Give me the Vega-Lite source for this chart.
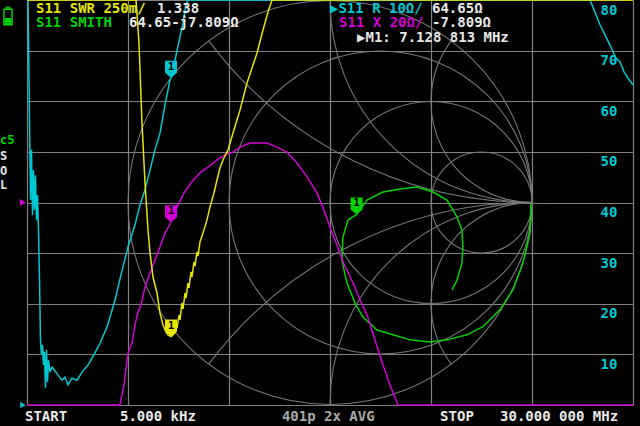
{
  "$schema": "https://vega.github.io/schema/vega-lite/v6.json",
  "width": 606,
  "height": 405,
  "autosize": {"type": "none"},
  "padding": {"left": 27, "top": 0, "right": 7, "bottom": 21},
  "background": "#000000",
  "config": {
    "view": {"stroke": null},
    "text": {"font": "DejaVu Sans Mono", "fontSize": 14, "fontWeight": "bold"}
  },
  "data": {"values": [{}]},
  "datasets": {
    "smithgrid": [
      {"name": "outer", "cx": 0, "cy": 0, "r": 1, "t1": 0, "t2": 360},
      {"name": "r=1/3", "cx": 0.25, "cy": 0, "r": 0.75, "t1": 0, "t2": 360},
      {"name": "r=1", "cx": 0.5, "cy": 0, "r": 0.5, "t1": 0, "t2": 360},
      {"name": "r=3", "cx": 0.75, "cy": 0, "r": 0.25, "t1": 0, "t2": 360},
      {"name": "x=1", "cx": 1, "cy": 1, "r": 1, "t1": 180, "t2": 270},
      {"name": "x=-1", "cx": 1, "cy": -1, "r": 1, "t1": 270, "t2": 360},
      {"name": "x=2", "cx": 1, "cy": 0.5, "r": 0.5, "t1": 180, "t2": 306.87},
      {"name": "x=-2", "cx": 1, "cy": -0.5, "r": 0.5, "t1": 233.13, "t2": 360},
      {"name": "x=0.5", "cx": 1, "cy": 2, "r": 2, "t1": 180, "t2": 233.13},
      {"name": "x=-0.5", "cx": 1, "cy": -2, "r": 2, "t1": 306.87, "t2": 360}
    ],
    "cyan": [
      {"f": 0.005, "R": 120}, {"f": 0.05, "R": 90}, {"f": 0.089, "R": 68.1}, {"f": 0.124, "R": 56.3},
      {"f": 0.173, "R": 40.5}, {"f": 0.223, "R": 50.4}, {"f": 0.272, "R": 37.5}, {"f": 0.322, "R": 46.4},
      {"f": 0.371, "R": 38.5}, {"f": 0.421, "R": 45.4}, {"f": 0.47, "R": 36.5}, {"f": 0.52, "R": 41.5},
      {"f": 0.569, "R": 34.6}, {"f": 0.619, "R": 24.7}, {"f": 0.668, "R": 12.8}, {"f": 0.718, "R": 9.9},
      {"f": 0.767, "R": 11.9}, {"f": 0.817, "R": 7.9}, {"f": 0.866, "R": 10.5}, {"f": 0.916, "R": 3.4},
      {"f": 0.965, "R": 10.9}, {"f": 1.015, "R": 4.5}, {"f": 1.064, "R": 8.9}, {"f": 1.139, "R": 6.5},
      {"f": 1.238, "R": 7.5}, {"f": 1.287, "R": 7.3}, {"f": 1.535, "R": 5.9}, {"f": 1.733, "R": 4.9},
      {"f": 1.881, "R": 5.5}, {"f": 2.03, "R": 4.0}, {"f": 2.228, "R": 5.3}, {"f": 2.475, "R": 4.9},
      {"f": 2.723, "R": 6.5}, {"f": 3.02, "R": 7.9}, {"f": 3.366, "R": 10.3}, {"f": 3.614, "R": 12.2},
      {"f": 3.96, "R": 15.4}, {"f": 4.356, "R": 20.7}, {"f": 4.653, "R": 25.7}, {"f": 5.0, "R": 31.2},
      {"f": 5.347, "R": 35.6}, {"f": 5.594, "R": 39.5}, {"f": 5.842, "R": 42.5}, {"f": 6.089, "R": 46.4},
      {"f": 6.337, "R": 50.4}, {"f": 6.584, "R": 53.7}, {"f": 6.832, "R": 59.3}, {"f": 7.079, "R": 64.2},
      {"f": 7.128813, "R": 64.65}, {"f": 7.327, "R": 68.1}, {"f": 7.574, "R": 72.7}, {"f": 7.723, "R": 75.5},
      {"f": 7.871, "R": 79.0}, {"f": 7.97, "R": 84}, {"f": 8.5, "R": 110}, {"f": 15, "R": 180},
      {"f": 25, "R": 110}, {"f": 27.6, "R": 85}, {"f": 27.871, "R": 80.0}, {"f": 28.119, "R": 77.6},
      {"f": 28.366, "R": 75.1}, {"f": 28.614, "R": 73.1}, {"f": 28.861, "R": 71.1}, {"f": 29.158, "R": 68.5},
      {"f": 29.356, "R": 67.8}, {"f": 29.554, "R": 65.8}, {"f": 29.752, "R": 64.6}, {"f": 30.0, "R": 63.2}
    ],
    "yellow": [
      {"f": 0.005, "swr": 10}, {"f": 5.3, "swr": 3.2}, {"f": 5.396, "swr": 3.0}, {"f": 5.544, "swr": 2.788},
      {"f": 5.693, "swr": 2.393}, {"f": 5.842, "swr": 2.096}, {"f": 5.99, "swr": 1.864}, {"f": 6.089, "swr": 1.751},
      {"f": 6.238, "swr": 1.632}, {"f": 6.436, "swr": 1.553}, {"f": 6.584, "swr": 1.454}, {"f": 6.733, "swr": 1.395},
      {"f": 6.881, "swr": 1.36}, {"f": 6.98, "swr": 1.346}, {"f": 7.128813, "swr": 1.338}, {"f": 7.327, "swr": 1.356},
      {"f": 7.376, "swr": 1.41}, {"f": 7.426, "swr": 1.38}, {"f": 7.525, "swr": 1.444}, {"f": 7.574, "swr": 1.42},
      {"f": 7.673, "swr": 1.504}, {"f": 7.723, "swr": 1.474}, {"f": 7.822, "swr": 1.553}, {"f": 7.871, "swr": 1.528},
      {"f": 7.97, "swr": 1.602}, {"f": 8.02, "swr": 1.578}, {"f": 8.119, "swr": 1.657}, {"f": 8.168, "swr": 1.632},
      {"f": 8.267, "swr": 1.706}, {"f": 8.317, "swr": 1.686}, {"f": 8.416, "swr": 1.756}, {"f": 8.465, "swr": 1.736},
      {"f": 8.564, "swr": 1.805}, {"f": 8.713, "swr": 1.849}, {"f": 8.911, "swr": 1.914}, {"f": 9.059, "swr": 1.978},
      {"f": 9.257, "swr": 2.047}, {"f": 9.406, "swr": 2.111}, {"f": 9.554, "swr": 2.17}, {"f": 9.703, "swr": 2.21},
      {"f": 9.95, "swr": 2.259}, {"f": 10.198, "swr": 2.343}, {"f": 10.545, "swr": 2.457}, {"f": 10.891, "swr": 2.59},
      {"f": 11.139, "swr": 2.664}, {"f": 11.386, "swr": 2.738}, {"f": 11.683, "swr": 2.852}, {"f": 11.931, "swr": 2.941},
      {"f": 12.129, "swr": 3.0}, {"f": 12.3, "swr": 3.5}, {"f": 30.0, "swr": 10}
    ],
    "magenta": [
      {"f": 0.005, "x": -100}, {"f": 4.55, "x": -100}, {"f": 4.604, "x": -80}, {"f": 4.802, "x": -72.1},
      {"f": 5.0, "x": -59.4}, {"f": 5.198, "x": -55.5}, {"f": 5.347, "x": -48.4}, {"f": 5.495, "x": -43.3},
      {"f": 5.644, "x": -40.5}, {"f": 5.842, "x": -33.4}, {"f": 6.089, "x": -27.8}, {"f": 6.337, "x": -22.7},
      {"f": 6.584, "x": -17.6}, {"f": 6.832, "x": -12.0}, {"f": 7.128813, "x": -7.809}, {"f": 7.426, "x": -1.8},
      {"f": 7.772, "x": 3.8}, {"f": 8.119, "x": 7.7}, {"f": 8.564, "x": 11.7}, {"f": 8.96, "x": 14.0},
      {"f": 9.406, "x": 16.8}, {"f": 9.802, "x": 18.8}, {"f": 10.198, "x": 19.9}, {"f": 10.545, "x": 21.9},
      {"f": 11.04, "x": 23.5}, {"f": 11.436, "x": 23.5}, {"f": 11.881, "x": 23.5}, {"f": 12.376, "x": 21.9},
      {"f": 12.871, "x": 19.9}, {"f": 13.366, "x": 15.6}, {"f": 13.861, "x": 10.1}, {"f": 14.356, "x": 3.8},
      {"f": 14.752, "x": -4.1}, {"f": 15.05, "x": -10.9}, {"f": 15.347, "x": -16.8}, {"f": 15.644, "x": -23.5},
      {"f": 16.139, "x": -31.8}, {"f": 16.485, "x": -38.5}, {"f": 16.832, "x": -44.4}, {"f": 17.228, "x": -54.3},
      {"f": 17.624, "x": -64.2}, {"f": 17.97, "x": -72.1}, {"f": 18.366, "x": -80}, {"f": 18.45, "x": -100},
      {"f": 30.0, "x": -100}
    ],
    "green": [
      {"f": 0.005, "re": 0.995, "im": -0.005}, {"f": 0.3, "re": 0.993, "im": -0.062}, {"f": 0.6, "re": 0.99, "im": -0.151},
      {"f": 1.0, "re": 0.955, "im": -0.3}, {"f": 1.5, "re": 0.906, "im": -0.431}, {"f": 2.0, "re": 0.842, "im": -0.53},
      {"f": 2.5, "re": 0.757, "im": -0.615}, {"f": 3.0, "re": 0.678, "im": -0.655}, {"f": 3.5, "re": 0.579, "im": -0.68},
      {"f": 4.0, "re": 0.495, "im": -0.69}, {"f": 4.4, "re": 0.396, "im": -0.68}, {"f": 4.8, "re": 0.312, "im": -0.655},
      {"f": 5.1, "re": 0.233, "im": -0.631}, {"f": 5.4, "re": 0.163, "im": -0.567}, {"f": 5.7, "re": 0.124, "im": -0.498},
      {"f": 6.0, "re": 0.084, "im": -0.399}, {"f": 6.4, "re": 0.059, "im": -0.285}, {"f": 6.7, "re": 0.064, "im": -0.171},
      {"f": 6.95, "re": 0.089, "im": -0.087}, {"f": 7.128813, "re": 0.1318, "im": -0.0591}, {"f": 7.4, "re": 0.183, "im": 0.012},
      {"f": 8.0, "re": 0.262, "im": 0.052}, {"f": 9.0, "re": 0.347, "im": 0.067}, {"f": 10.5, "re": 0.431, "im": 0.077},
      {"f": 12.0, "re": 0.510, "im": 0.052}, {"f": 14.0, "re": 0.579, "im": 0.012}, {"f": 16.0, "re": 0.629, "im": -0.072},
      {"f": 18.0, "re": 0.653, "im": -0.136}, {"f": 21.0, "re": 0.658, "im": -0.220}, {"f": 24.0, "re": 0.653, "im": -0.300},
      {"f": 27.0, "re": 0.629, "im": -0.384}, {"f": 30.0, "re": 0.604, "im": -0.433}
    ],
    "rlabels": [
      {"v": 10}, {"v": 20}, {"v": 30}, {"v": 40}, {"v": 50}, {"v": 60}, {"v": 70}, {"v": 80}
    ]
  },
  "resolve": {"scale": {"x": "independent", "y": "independent", "theta": "independent", "radius": "independent"}},
  "layer": [
    {
      "data": {"name": "smithgrid"},
      "mark": {"type": "arc", "filled": false, "color": "#767676", "strokeWidth": 1.1},
      "encoding": {
        "x": {"field": "cx", "type": "quantitative", "scale": {"domain": [-1.5, 1.5], "nice": false, "zero": false}, "axis": null},
        "y": {"field": "cy", "type": "quantitative", "scale": {"domain": [-1.0025, 1.0025], "nice": false, "zero": false}, "axis": null},
        "radius": {"field": "r", "type": "quantitative", "scale": {"type": "linear", "domain": [0, 1], "range": [0, 202], "zero": true}},
        "radius2": {"field": "r"},
        "theta": {"field": "t1", "type": "quantitative", "stack": null, "scale": {"type": "linear", "domain": [0, 360], "range": [0, 6.283185307179586]}},
        "theta2": {"field": "t2"}
      }
    },
    {
      "data": {"name": "cyan"},
      "mark": {"type": "line", "color": "#00c8d2", "strokeWidth": 1.5},
      "encoding": {
        "x": {"field": "f", "type": "quantitative", "scale": {"domain": [0, 30], "nice": false, "zero": false},
          "axis": {"values": [0, 5, 10, 15, 20, 25, 30], "grid": true, "gridColor": "#808080", "gridWidth": 1.2, "labels": false, "ticks": false, "domain": false, "title": null}},
        "y": {"field": "R", "type": "quantitative", "scale": {"domain": [0, 80], "nice": false, "zero": false, "clamp": true},
          "axis": {"values": [0, 10, 20, 30, 40, 50, 60, 70, 80], "grid": true, "gridColor": "#808080", "gridWidth": 1.2, "labels": false, "ticks": false, "domain": false, "title": null}}
      }
    },
    {
      "data": {"name": "green"},
      "mark": {"type": "line", "color": "#00d200", "strokeWidth": 1.5},
      "encoding": {
        "x": {"field": "re", "type": "quantitative", "scale": {"domain": [-1.5, 1.5], "nice": false, "zero": false}, "axis": null},
        "y": {"field": "im", "type": "quantitative", "scale": {"domain": [-1.0025, 1.0025], "nice": false, "zero": false}, "axis": null},
        "order": {"field": "f", "type": "quantitative"}
      }
    },
    {
      "data": {"name": "magenta"},
      "mark": {"type": "line", "color": "#d200d2", "strokeWidth": 1.5},
      "encoding": {
        "x": {"field": "f", "type": "quantitative", "scale": {"domain": [0, 30], "nice": false, "zero": false}, "axis": null},
        "y": {"field": "x", "type": "quantitative", "scale": {"domain": [-80, 80], "nice": false, "zero": false, "clamp": true}, "axis": null}
      }
    },
    {
      "data": {"name": "yellow"},
      "mark": {"type": "line", "color": "#e6e600", "strokeWidth": 1.5},
      "encoding": {
        "x": {"field": "f", "type": "quantitative", "scale": {"domain": [0, 30], "nice": false, "zero": false}, "axis": null},
        "y": {"field": "swr", "type": "quantitative", "scale": {"domain": [1, 3], "nice": false, "zero": false, "clamp": true}, "axis": null}
      }
    },
    {
      "mark": {"type": "point", "shape": "M-1.2,-3.4H1.2V-1L0,0L-1.2,-1Z", "size": 100, "filled": true, "color": "#e6e600", "opacity": 1},
      "encoding": {
        "x": {"datum": 7.128813, "type": "quantitative", "scale": {"domain": [0, 30], "nice": false, "zero": false}, "axis": null},
        "y": {"datum": 1.338, "type": "quantitative", "scale": {"domain": [1, 3], "nice": false, "zero": false}, "axis": null}
      }
    },
    {
      "mark": {"type": "text", "text": "1", "color": "#000000", "fontSize": 11, "dy": -11, "align": "center", "baseline": "middle"},
      "encoding": {
        "x": {"datum": 7.128813, "type": "quantitative", "scale": {"domain": [0, 30], "nice": false, "zero": false}, "axis": null},
        "y": {"datum": 1.338, "type": "quantitative", "scale": {"domain": [1, 3], "nice": false, "zero": false}, "axis": null}
      }
    },
    {
      "mark": {"type": "point", "shape": "M-1.2,-3.4H1.2V-1L0,0L-1.2,-1Z", "size": 100, "filled": true, "color": "#00c8d2", "opacity": 1},
      "encoding": {
        "x": {"datum": 7.128813, "type": "quantitative", "scale": {"domain": [0, 30], "nice": false, "zero": false}, "axis": null},
        "y": {"datum": 64.65, "type": "quantitative", "scale": {"domain": [0, 80], "nice": false, "zero": false}, "axis": null}
      }
    },
    {
      "mark": {"type": "text", "text": "1", "color": "#000000", "fontSize": 11, "dy": -11, "align": "center", "baseline": "middle"},
      "encoding": {
        "x": {"datum": 7.128813, "type": "quantitative", "scale": {"domain": [0, 30], "nice": false, "zero": false}, "axis": null},
        "y": {"datum": 64.65, "type": "quantitative", "scale": {"domain": [0, 80], "nice": false, "zero": false}, "axis": null}
      }
    },
    {
      "mark": {"type": "point", "shape": "M-1.2,-3.4H1.2V-1L0,0L-1.2,-1Z", "size": 100, "filled": true, "color": "#d200d2", "opacity": 1},
      "encoding": {
        "x": {"datum": 7.128813, "type": "quantitative", "scale": {"domain": [0, 30], "nice": false, "zero": false}, "axis": null},
        "y": {"datum": -7.809, "type": "quantitative", "scale": {"domain": [-80, 80], "nice": false, "zero": false}, "axis": null}
      }
    },
    {
      "mark": {"type": "text", "text": "1", "color": "#000000", "fontSize": 11, "dy": -11, "align": "center", "baseline": "middle"},
      "encoding": {
        "x": {"datum": 7.128813, "type": "quantitative", "scale": {"domain": [0, 30], "nice": false, "zero": false}, "axis": null},
        "y": {"datum": -7.809, "type": "quantitative", "scale": {"domain": [-80, 80], "nice": false, "zero": false}, "axis": null}
      }
    },
    {
      "mark": {"type": "point", "shape": "M-1.2,-3.4H1.2V-1L0,0L-1.2,-1Z", "size": 100, "filled": true, "color": "#00d200", "opacity": 1},
      "encoding": {
        "x": {"datum": 0.1318, "type": "quantitative", "scale": {"domain": [-1.5, 1.5], "nice": false, "zero": false}, "axis": null},
        "y": {"datum": -0.0591, "type": "quantitative", "scale": {"domain": [-1.0025, 1.0025], "nice": false, "zero": false}, "axis": null}
      }
    },
    {
      "mark": {"type": "text", "text": "1", "color": "#000000", "fontSize": 11, "dy": -11, "align": "center", "baseline": "middle"},
      "encoding": {
        "x": {"datum": 0.1318, "type": "quantitative", "scale": {"domain": [-1.5, 1.5], "nice": false, "zero": false}, "axis": null},
        "y": {"datum": -0.0591, "type": "quantitative", "scale": {"domain": [-1.0025, 1.0025], "nice": false, "zero": false}, "axis": null}
      }
    },
    {
      "mark": {"type": "point", "shape": "triangle-right", "size": 50, "filled": true, "color": "#d200d2", "opacity": 1},
      "encoding": {
        "x": {"datum": -0.2, "type": "quantitative", "scale": {"domain": [0, 30], "nice": false, "zero": false}, "axis": null},
        "y": {"datum": 0, "type": "quantitative", "scale": {"domain": [-80, 80], "nice": false, "zero": false}, "axis": null}
      }
    },
    {
      "mark": {"type": "point", "shape": "triangle-right", "size": 40, "filled": true, "color": "#00c8d2", "opacity": 1},
      "encoding": {
        "x": {"datum": -0.2, "type": "quantitative", "scale": {"domain": [0, 30], "nice": false, "zero": false}, "axis": null},
        "y": {"datum": 0, "type": "quantitative", "scale": {"domain": [0, 80], "nice": false, "zero": false}, "axis": null}
      }
    },
    {
      "mark": {"type": "point", "shape": "M-0.47,-0.8H0.47V1H-0.47Z M-0.2,-1H0.2V-0.8H-0.2Z M-0.28,0.28H0.28V0.45H-0.28Z M-0.28,0.62H0.28V0.8H-0.28Z", "size": 300, "filled": false, "color": "#00d200", "strokeWidth": 1.5, "opacity": 1},
      "encoding": {
        "x": {"datum": -0.94, "type": "quantitative", "scale": {"domain": [0, 30], "nice": false, "zero": false}, "axis": null},
        "y": {"datum": 76.8, "type": "quantitative", "scale": {"domain": [0, 80], "nice": false, "zero": false}, "axis": null}
      }
    },
    {
      "data": {"name": "rlabels"},
      "mark": {"type": "text", "color": "#00c8d2", "align": "center", "baseline": "middle", "dy": 10.5},
      "encoding": {
        "x": {"datum": 28.81, "type": "quantitative", "scale": {"domain": [0, 30], "nice": false, "zero": false}, "axis": null},
        "y": {"field": "v", "type": "quantitative", "scale": {"domain": [0, 80], "nice": false, "zero": false}, "axis": null},
        "text": {"field": "v"}
      }
    },
    {
      "mark": {"type": "text", "text": "S11 SWR 250m/", "color": "#e6e600", "align": "left", "baseline": "middle"},
      "encoding": {
        "x": {"datum": 0.446, "type": "quantitative", "scale": {"domain": [0, 30], "nice": false, "zero": false}, "axis": null},
        "y": {"datum": 78.32, "type": "quantitative", "scale": {"domain": [0, 80], "nice": false, "zero": false}, "axis": null}
      }
    },
    {
      "mark": {"type": "text", "text": "1.338", "color": "#e8e8e8", "align": "left", "baseline": "middle"},
      "encoding": {
        "x": {"datum": 6.436, "type": "quantitative", "scale": {"domain": [0, 30], "nice": false, "zero": false}, "axis": null},
        "y": {"datum": 78.32, "type": "quantitative", "scale": {"domain": [0, 80], "nice": false, "zero": false}, "axis": null}
      }
    },
    {
      "mark": {"type": "text", "text": "S11 SMITH", "color": "#00d200", "align": "left", "baseline": "middle"},
      "encoding": {
        "x": {"datum": 0.446, "type": "quantitative", "scale": {"domain": [0, 30], "nice": false, "zero": false}, "axis": null},
        "y": {"datum": 75.36, "type": "quantitative", "scale": {"domain": [0, 80], "nice": false, "zero": false}, "axis": null}
      }
    },
    {
      "mark": {"type": "text", "text": "64.65-j7.809Ω", "color": "#e8e8e8", "align": "left", "baseline": "middle"},
      "encoding": {
        "x": {"datum": 5.05, "type": "quantitative", "scale": {"domain": [0, 30], "nice": false, "zero": false}, "axis": null},
        "y": {"datum": 75.36, "type": "quantitative", "scale": {"domain": [0, 80], "nice": false, "zero": false}, "axis": null}
      }
    },
    {
      "mark": {"type": "text", "text": "▶S11 R 10Ω/", "color": "#00c8d2", "align": "left", "baseline": "middle"},
      "encoding": {
        "x": {"datum": 15.0, "type": "quantitative", "scale": {"domain": [0, 30], "nice": false, "zero": false}, "axis": null},
        "y": {"datum": 78.32, "type": "quantitative", "scale": {"domain": [0, 80], "nice": false, "zero": false}, "axis": null}
      }
    },
    {
      "mark": {"type": "text", "text": "64.65Ω", "color": "#e8e8e8", "align": "left", "baseline": "middle"},
      "encoding": {
        "x": {"datum": 20.05, "type": "quantitative", "scale": {"domain": [0, 30], "nice": false, "zero": false}, "axis": null},
        "y": {"datum": 78.32, "type": "quantitative", "scale": {"domain": [0, 80], "nice": false, "zero": false}, "axis": null}
      }
    },
    {
      "mark": {"type": "text", "text": "S11 X 20Ω/", "color": "#d200d2", "align": "left", "baseline": "middle"},
      "encoding": {
        "x": {"datum": 15.45, "type": "quantitative", "scale": {"domain": [0, 30], "nice": false, "zero": false}, "axis": null},
        "y": {"datum": 75.36, "type": "quantitative", "scale": {"domain": [0, 80], "nice": false, "zero": false}, "axis": null}
      }
    },
    {
      "mark": {"type": "text", "text": "-7.809Ω", "color": "#e8e8e8", "align": "left", "baseline": "middle"},
      "encoding": {
        "x": {"datum": 20.05, "type": "quantitative", "scale": {"domain": [0, 30], "nice": false, "zero": false}, "axis": null},
        "y": {"datum": 75.36, "type": "quantitative", "scale": {"domain": [0, 80], "nice": false, "zero": false}, "axis": null}
      }
    },
    {
      "mark": {"type": "text", "text": "▶M1: 7.128 813 MHz", "color": "#e8e8e8", "align": "left", "baseline": "middle"},
      "encoding": {
        "x": {"datum": 16.34, "type": "quantitative", "scale": {"domain": [0, 30], "nice": false, "zero": false}, "axis": null},
        "y": {"datum": 72.4, "type": "quantitative", "scale": {"domain": [0, 80], "nice": false, "zero": false}, "axis": null}
      }
    },
    {
      "mark": {"type": "text", "text": "c5", "color": "#00d200", "align": "left", "baseline": "middle", "fontSize": 12},
      "encoding": {
        "x": {"datum": -1.337, "type": "quantitative", "scale": {"domain": [0, 30], "nice": false, "zero": false}, "axis": null},
        "y": {"datum": 52.3, "type": "quantitative", "scale": {"domain": [0, 80], "nice": false, "zero": false}, "axis": null}
      }
    },
    {
      "mark": {"type": "text", "text": "S", "color": "#e8e8e8", "align": "left", "baseline": "middle", "fontSize": 12},
      "encoding": {
        "x": {"datum": -1.337, "type": "quantitative", "scale": {"domain": [0, 30], "nice": false, "zero": false}, "axis": null},
        "y": {"datum": 49.2, "type": "quantitative", "scale": {"domain": [0, 80], "nice": false, "zero": false}, "axis": null}
      }
    },
    {
      "mark": {"type": "text", "text": "O", "color": "#e8e8e8", "align": "left", "baseline": "middle", "fontSize": 12},
      "encoding": {
        "x": {"datum": -1.337, "type": "quantitative", "scale": {"domain": [0, 30], "nice": false, "zero": false}, "axis": null},
        "y": {"datum": 46.3, "type": "quantitative", "scale": {"domain": [0, 80], "nice": false, "zero": false}, "axis": null}
      }
    },
    {
      "mark": {"type": "text", "text": "L", "color": "#e8e8e8", "align": "left", "baseline": "middle", "fontSize": 12},
      "encoding": {
        "x": {"datum": -1.337, "type": "quantitative", "scale": {"domain": [0, 30], "nice": false, "zero": false}, "axis": null},
        "y": {"datum": 43.45, "type": "quantitative", "scale": {"domain": [0, 80], "nice": false, "zero": false}, "axis": null}
      }
    },
    {
      "mark": {"type": "text", "text": "START", "color": "#e8e8e8", "align": "left", "baseline": "middle"},
      "encoding": {
        "x": {"datum": -0.099, "type": "quantitative", "scale": {"domain": [0, 30], "nice": false, "zero": false}, "axis": null},
        "y": {"datum": -2.37, "type": "quantitative", "scale": {"domain": [0, 80], "nice": false, "zero": false}, "axis": null}
      }
    },
    {
      "mark": {"type": "text", "text": "5.000 kHz", "color": "#e8e8e8", "align": "left", "baseline": "middle"},
      "encoding": {
        "x": {"datum": 4.604, "type": "quantitative", "scale": {"domain": [0, 30], "nice": false, "zero": false}, "axis": null},
        "y": {"datum": -2.37, "type": "quantitative", "scale": {"domain": [0, 80], "nice": false, "zero": false}, "axis": null}
      }
    },
    {
      "mark": {"type": "text", "text": "401p 2x AVG", "color": "#a8a8a8", "align": "left", "baseline": "middle"},
      "encoding": {
        "x": {"datum": 12.62, "type": "quantitative", "scale": {"domain": [0, 30], "nice": false, "zero": false}, "axis": null},
        "y": {"datum": -2.37, "type": "quantitative", "scale": {"domain": [0, 80], "nice": false, "zero": false}, "axis": null}
      }
    },
    {
      "mark": {"type": "text", "text": "STOP", "color": "#e8e8e8", "align": "left", "baseline": "middle"},
      "encoding": {
        "x": {"datum": 20.45, "type": "quantitative", "scale": {"domain": [0, 30], "nice": false, "zero": false}, "axis": null},
        "y": {"datum": -2.37, "type": "quantitative", "scale": {"domain": [0, 80], "nice": false, "zero": false}, "axis": null}
      }
    },
    {
      "mark": {"type": "text", "text": "30.000 000 MHz", "color": "#e8e8e8", "align": "left", "baseline": "middle"},
      "encoding": {
        "x": {"datum": 23.42, "type": "quantitative", "scale": {"domain": [0, 30], "nice": false, "zero": false}, "axis": null},
        "y": {"datum": -2.37, "type": "quantitative", "scale": {"domain": [0, 80], "nice": false, "zero": false}, "axis": null}
      }
    }
  ]
}
